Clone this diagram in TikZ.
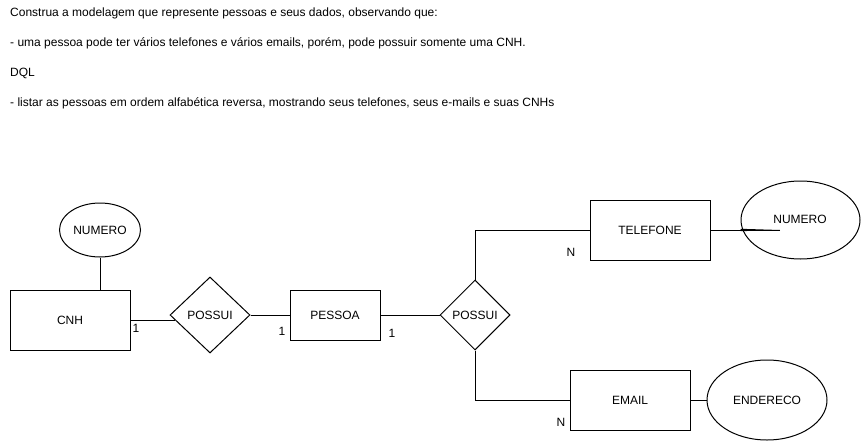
\documentclass[tikz,border=0pt]{standalone}
\usepackage{fontspec}
\setmainfont{Liberation Sans}
\usetikzlibrary{shapes.geometric}
\begin{document}
\begin{tikzpicture}[x=1pt,y=-1pt,
  every node/.style={font=\fontsize{12}{14}\selectfont, inner sep=0pt},
  ent/.style={draw, line width=1pt, rectangle},
  attr/.style={draw, line width=1pt, ellipse},
  rel/.style={draw, line width=1pt, diamond},
  conn/.style={line width=1pt},
  lbl/.style={anchor=center},
  txt/.style={anchor=west}]
\useasboundingbox (0,0) rectangle (861,441);
% header text
\node[txt] (t1) at (10,13) {Construa a modelagem que represente pessoas e seus dados, observando que:};
\node[txt] (t2) at (10,43) {- uma pessoa pode ter vários telefones e vários emails, porém, pode possuir somente uma CNH.};
\node[txt] (t3) at (10,73) {DQL};
\node[txt] (t4) at (10,103) {- listar as pessoas em ordem alfabética reversa, mostrando seus telefones, seus e-mails e suas CNHs};
% entities
\node[ent, minimum width=120pt, minimum height=60pt] (cnh) at (70,320) {CNH};
\node[ent, minimum width=90pt, minimum height=50pt] (pessoa) at (335,315) {PESSOA};
\node[ent, minimum width=120pt, minimum height=60pt] (tel) at (650,230) {TELEFONE};
\node[ent, minimum width=120pt, minimum height=60pt] (email) at (630,400) {EMAIL};
% attributes
\node[attr, minimum width=81pt, minimum height=54pt] (numL) at (100,230) {NUMERO};
\node[attr, minimum width=119pt, minimum height=78pt] (numR) at (800.5,220) {};
\node (numRt) at (800,219) {NUMERO};
\node[attr, minimum width=120pt, minimum height=80pt] (ender) at (767,400) {ENDERECO};
% relationships
\node[rel, minimum width=80pt, minimum height=76pt] (d1) at (210,315) {POSSUI};
\node[rel, minimum width=70pt, minimum height=70pt] (d2) at (475,315) {POSSUI};
% connectors
\draw[conn] (numL.south) -- (numL.south |- cnh.north);
\draw[conn] (cnh.east) -- ([shift={(5.3,5)}]d1.west);
\draw[conn] (d1.east) -- (pessoa.west);
\draw[conn] (pessoa.east) -- (d2.west);
\draw[conn] (d2.north) |- (tel.west);
\draw[conn] (d2.south) |- (email.west);
\coordinate (tip) at (780,230);
\draw[conn] (tel.east) -- (tip);
\fill ([shift={(0,-1.2)}]numR.west |- tel.east) -- (tip) -- ([shift={(0,1.2)}]numR.west |- tel.east) -- cycle;
\draw[conn] (email.east) -- (ender.west);
% cardinalities
\node[lbl] (c1) at (136,328) {1};
\node[lbl] (c2) at (282,331) {1};
\node[lbl] (c3) at (392,333) {1};
\node[lbl] (c4) at (571,252) {N};
\node[lbl] (c5) at (561,422) {N};
\end{tikzpicture}
\end{document}
